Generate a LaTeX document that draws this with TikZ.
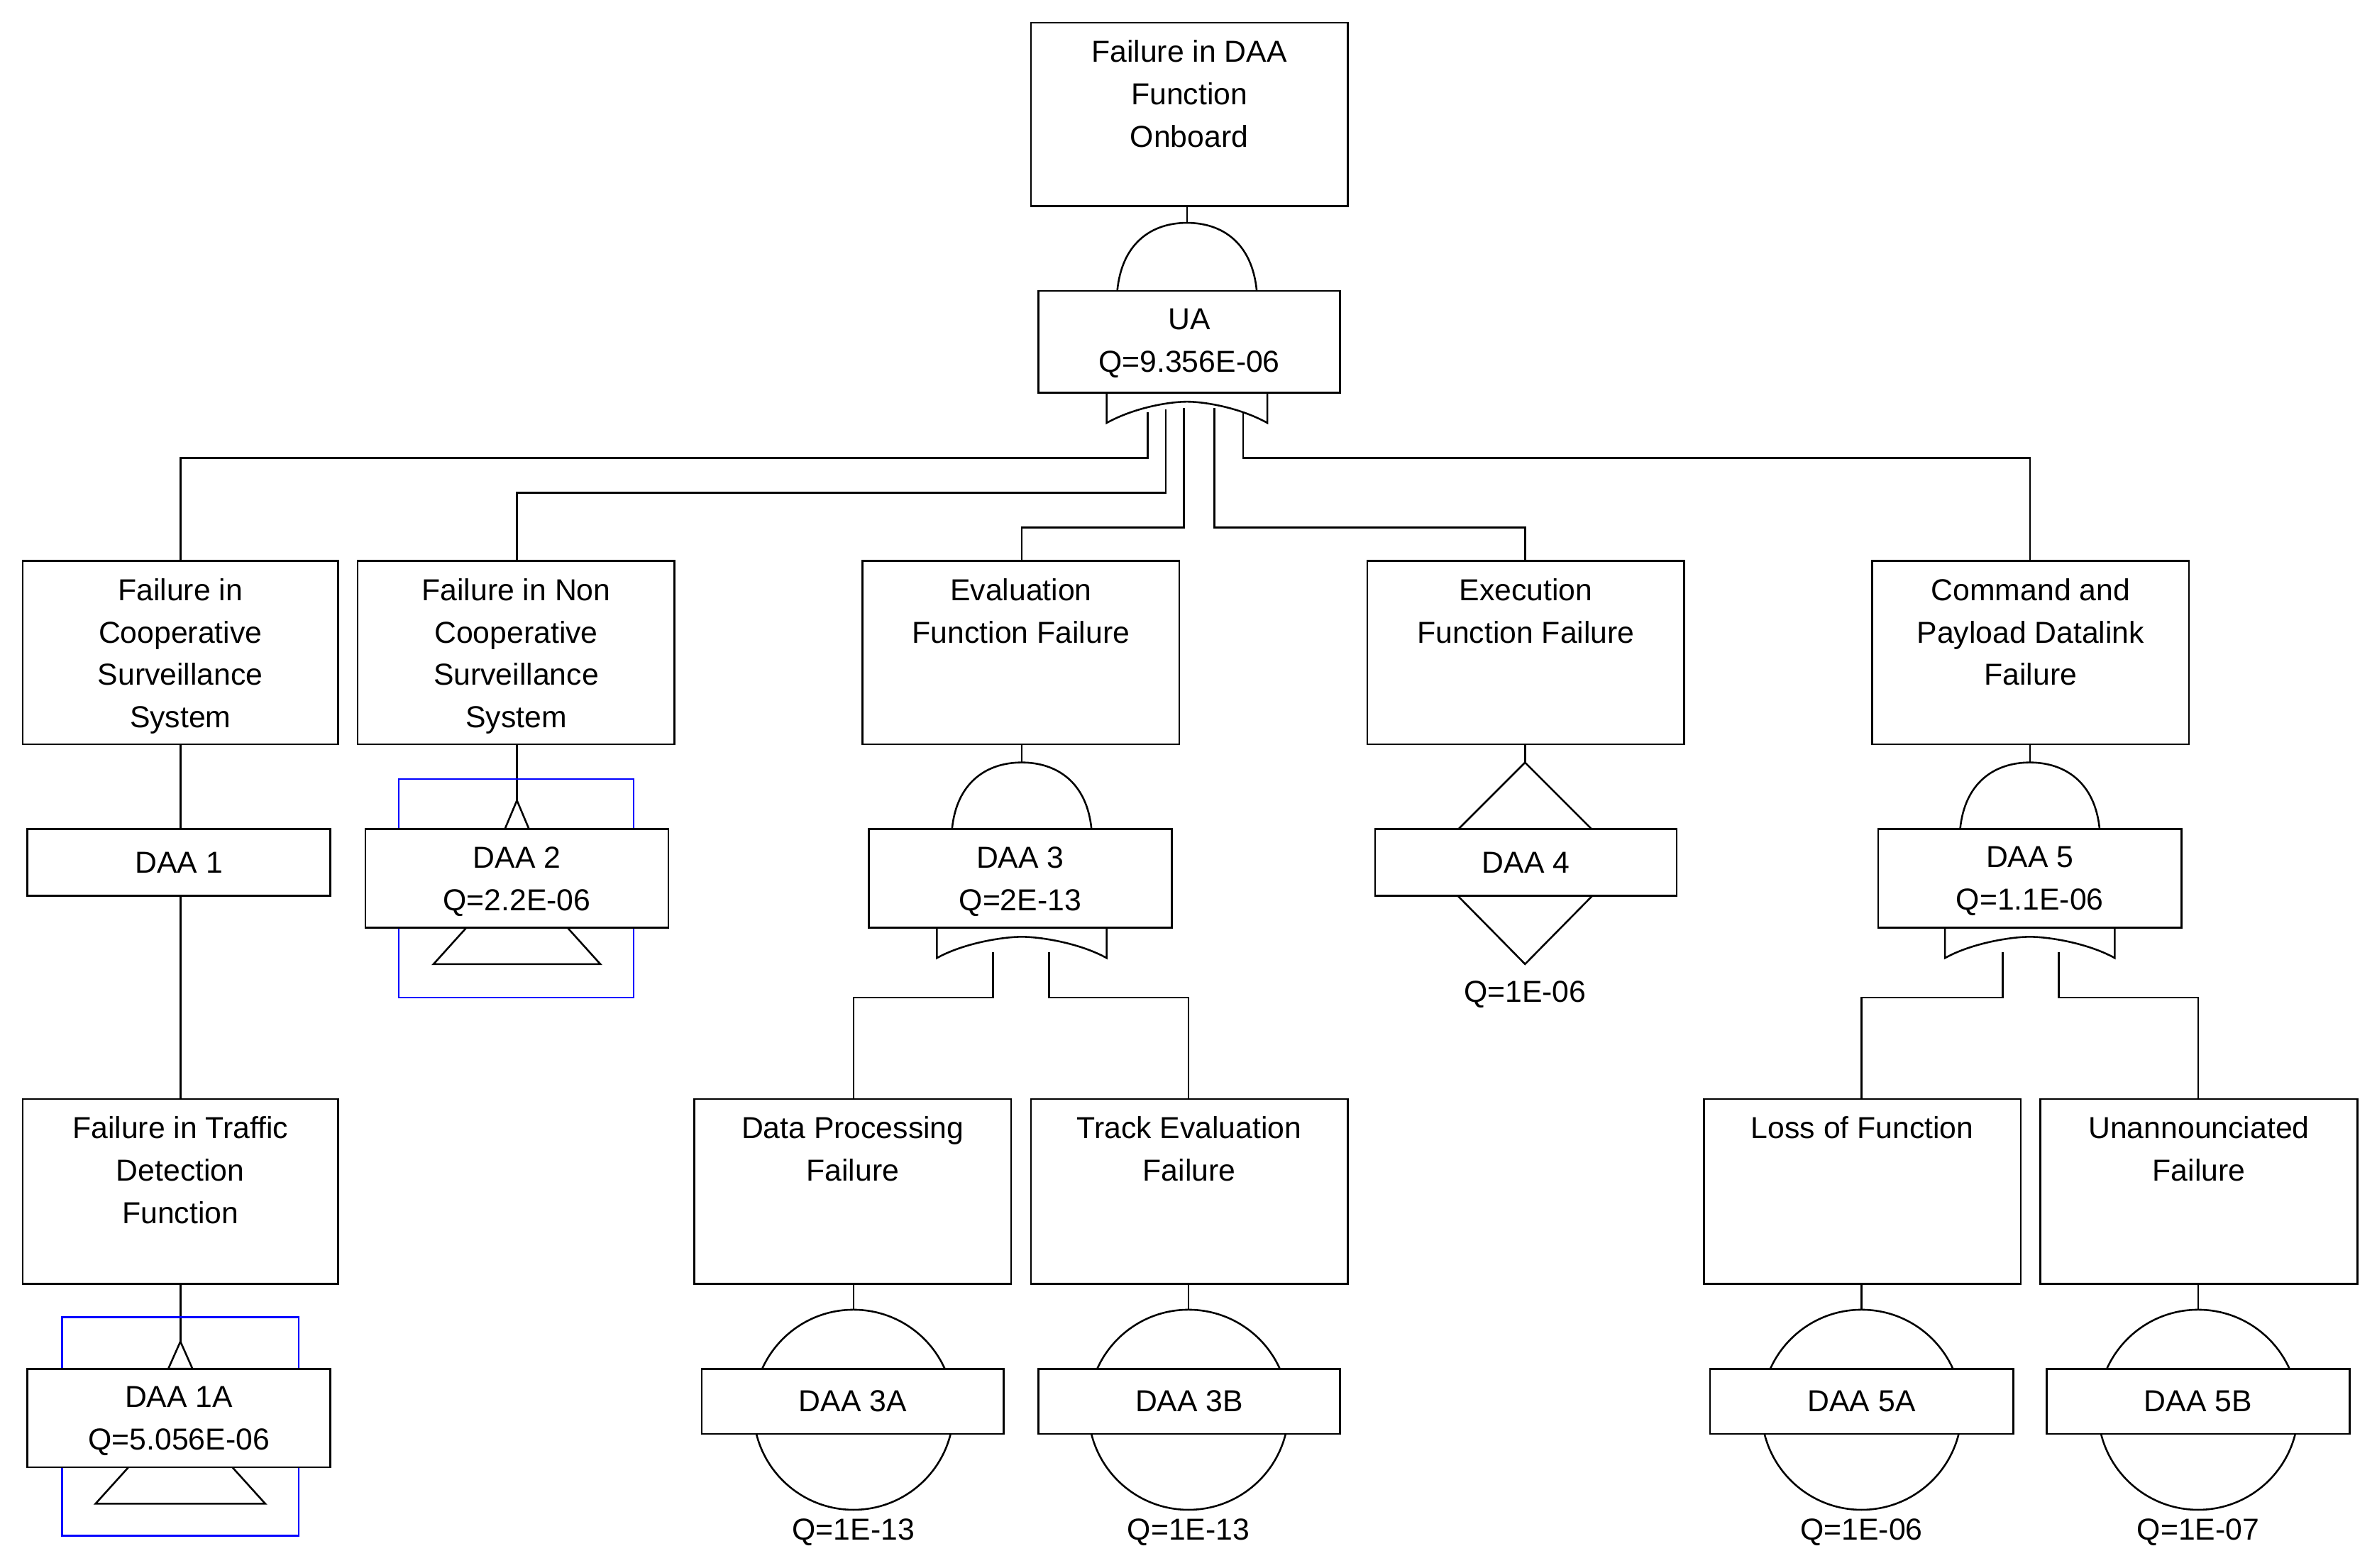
\documentclass[tikz,border=0pt]{standalone}
\usepackage{fontspec}
\setmainfont{Liberation Sans}
\begin{document}
\begin{tikzpicture}[x=1pt,y=-1pt,line width=1.2pt,
  box/.style={draw,rectangle,inner sep=0pt},
  txt/.style={anchor=north,align=center,inner sep=0pt,font=\fontsize{20}{28}\selectfont},
  q/.style={anchor=center,inner sep=0pt,font=\fontsize{20}{24}\selectfont},
  tb/.style={draw=blue,line width=1.2pt}]
\useasboundingbox[fill=white] (0,0) rectangle (1568,1034);
\newcommand{\bx}[6]{%
  \pgfmathsetmacro{\cx}{(#2+#4)/2}\pgfmathsetmacro{\cy}{(#3+#5)/2}%
  \pgfmathsetmacro{\w}{#4-#2}\pgfmathsetmacro{\h}{#5-#3}%
  \node[box,fill=white,minimum width=\w pt,minimum height=\h pt] (#1) at (\cx,\cy) {};
  \node[txt] (#1t) at (\cx,#3+11) {#6};}
\newcommand{\bxc}[6]{%
  \pgfmathsetmacro{\cx}{(#2+#4)/2}\pgfmathsetmacro{\cy}{(#3+#5)/2}%
  \pgfmathsetmacro{\w}{#4-#2}\pgfmathsetmacro{\h}{#5-#3}%
  \node[box,fill=white,minimum width=\w pt,minimum height=\h pt] (#1) at (\cx,\cy) {};
  \node[q] (#1t) at (\cx,\cy) {#6};}
\newcommand{\andg}[3]{%
  \draw[fill=white] (#1-46,#3) .. controls (#1-43,#2+13) and (#1-23,#2) .. (#1,#2) .. controls (#1+23,#2) and (#1+43,#2+13) .. (#1+46,#3);}
\newcommand{\org}[3]{%
  \draw[fill=white] (#1-#3,#2) -- (#1-#3,#2+20) .. controls (#1-#3+18,#2+10) and (#1-12,#2+6) .. (#1,#2+6) .. controls (#1+12,#2+6) and (#1+#3-18,#2+10) .. (#1+#3,#2+20) -- (#1+#3,#2) -- cycle;}
\newcommand{\basic}[2]{\draw[fill=white] (#1,#2) circle (66);}

\coordinate (s1) at (757,272);\coordinate (s2) at (769,270);\coordinate (s3) at (781,269);
\coordinate (s4) at (801,269);\coordinate (s5) at (820,272);
\draw (119,370) -- (119,302) -- (757,302) -- (s1);
\draw (341,370) -- (341,325) -- (769,325) -- (s2);
\draw (674,370) -- (674,348) -- (781,348) -- (s3);
\draw (1006,370) -- (1006,348) -- (801,348) -- (s4);
\draw (1339,370) -- (1339,302) -- (820,302) -- (s5);
\draw (783,136) -- (783,192);
\draw (119,491) -- (119,725);
\draw (119,847) -- (119,885);
\draw (341,491) -- (341,528);
\draw (674,491) -- (674,547);
\draw (655,628) -- (655,658) -- (563,658) -- (563,725);
\draw (692,628) -- (692,658) -- (784,658) -- (784,725);
\draw (1006,491) -- (1006,547);
\draw (1339,491) -- (1339,547);
\draw (1321,628) -- (1321,658) -- (1228,658) -- (1228,725);
\draw (1358,628) -- (1358,658) -- (1450,658) -- (1450,725);
\foreach \x in {563,784,1228,1450} \draw (\x,847) -- (\x,900);

\bx{top}{680}{15}{889}{136}{Failure in DAA\\Function\\Onboard}
\andg{783}{147}{192}
\org{783}{259}{53}
\bx{ua}{685}{192}{884}{259}{UA\\Q=9.356E-06}

\bx{b1}{15}{370}{223}{491}{Failure in\\Cooperative\\Surveillance\\System}
\bx{b2}{236}{370}{445}{491}{Failure in Non\\Cooperative\\Surveillance\\System}
\bx{b3}{569}{370}{778}{491}{Evaluation\\Function Failure}
\bx{b4}{902}{370}{1111}{491}{Execution\\Function Failure}
\bx{b5}{1235}{370}{1444}{491}{Command and\\Payload Datalink\\Failure}

\bxc{daa1}{18}{547}{218}{591}{DAA 1}
\bx{b1a}{15}{725}{223}{847}{Failure in Traffic\\Detection\\Function}
\draw[tb] (41,869) rectangle (197,1013);
\draw (119,885) -- (111,903) -- (127,903) -- cycle;
\draw[fill=white] (119,930) -- (63,992) -- (175,992) -- cycle;
\bx{daa1a}{18}{903}{218}{968}{DAA 1A\\Q=5.056E-06}

\draw[tb] (263,514) rectangle (418,658);
\draw (341,528) -- (333,547) -- (349,547) -- cycle;
\draw[fill=white] (341,575) -- (286,636) -- (396,636) -- cycle;
\bx{daa2}{241}{547}{441}{612}{DAA 2\\Q=2.2E-06}

\andg{674}{503}{547}
\org{674}{612}{56}
\bx{daa3}{573}{547}{773}{612}{DAA 3\\Q=2E-13}
\bx{b3a}{458}{725}{667}{847}{Data Processing\\Failure}
\bx{b3b}{680}{725}{889}{847}{Track Evaluation\\Failure}
\basic{563}{930}\basic{784}{930}
\bxc{daa3a}{463}{903}{662}{946}{DAA 3A}
\bxc{daa3b}{685}{903}{884}{946}{DAA 3B}
\node[q] (q3a) at (563,1011) {Q=1E-13};
\node[q] (q3b) at (784,1011) {Q=1E-13};

\draw[fill=white] (1006,503) -- (1072,569) -- (1006,636) -- (940,569) -- cycle;
\bxc{daa4}{907}{547}{1106}{591}{DAA 4}
\node[q] (q4) at (1006,656) {Q=1E-06};

\andg{1339}{503}{547}
\org{1339}{612}{56}
\bx{daa5}{1239}{547}{1439}{612}{DAA 5\\Q=1.1E-06}
\bx{b5a}{1124}{725}{1333}{847}{Loss of Function}
\bx{b5b}{1346}{725}{1555}{847}{Unannounciated\\Failure}
\basic{1228}{930}\basic{1450}{930}
\bxc{daa5a}{1128}{903}{1328}{946}{DAA 5A}
\bxc{daa5b}{1350}{903}{1550}{946}{DAA 5B}
\node[q] (q5a) at (1228,1011) {Q=1E-06};
\node[q] (q5b) at (1450,1011) {Q=1E-07};
\end{tikzpicture}
\end{document}
